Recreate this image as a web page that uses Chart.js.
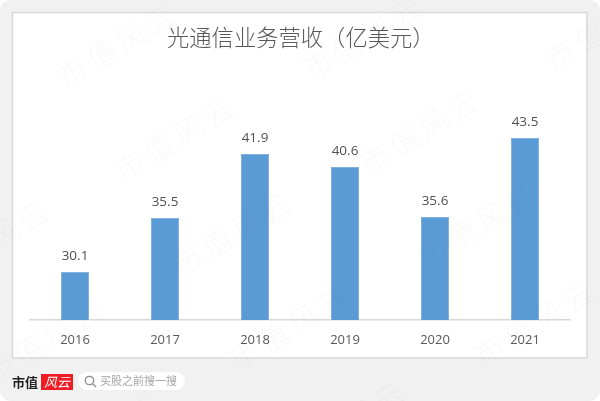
<!DOCTYPE html>
<html>
<head>
<meta charset="utf-8">
<style>
  html, body { margin: 0; padding: 0; background: #fff; }
  canvas { display: block; }
</style>
<script src="https://cdn.jsdelivr.net/npm/chart.js@4/dist/chart.umd.js"></script>
</head>
<body>
<canvas id="chart" width="600" height="401"></canvas>
<script>
const years = ['2016', '2017', '2018', '2019', '2020', '2021'];
const revenue = [30.1, 35.5, 41.9, 40.6, 35.6, 43.5];
const chartTitle = '光通信业务营收（亿美元）';
const watermarkText = '市值风云';
const watermarkSpots = [
  [60, 80], [117, 173], [175, 268], [232, 362], [289, 457],
  [305, 72], [362, 166], [420, 260], [477, 358],
  [547, 62], [604, 156], [-68, 276], [-13, 375], [44, 470]
];

const cjk = '"Noto Sans CJK SC", sans-serif';
const latin = '"Open Sans", sans-serif';

function roundRect(ctx, x, y, w, h, r) {
  ctx.beginPath();
  ctx.roundRect(x, y, w, h, r);
}

// page background and the white card behind the chart
const backdrop = {
  id: 'backdrop',
  beforeDraw(chart) {
    const ctx = chart.ctx;
    ctx.save();
    ctx.fillStyle = '#fff';
    ctx.fillRect(0, 0, 600, 401);
    ctx.fillStyle = '#f1f1f1';
    roundRect(ctx, 0, 0, 600, 401, 11);
    ctx.fill();
    ctx.fillStyle = '#fff';
    ctx.fillRect(12.5, 12.5, 574.5, 345.5);
    ctx.strokeStyle = '#d9d9d9';
    ctx.lineWidth = 1.5;
    ctx.strokeRect(12.5, 12.5, 574.5, 345.5);

    ctx.fillStyle = '#595959';
    ctx.font = '300 22.3px ' + cjk;
    ctx.textAlign = 'left';
    ctx.textBaseline = 'middle';
    ctx.fillText(chartTitle, 167, 38);
    ctx.restore();
  }
};

const barLabels = {
  id: 'barLabels',
  afterDatasetsDraw(chart) {
    const ctx = chart.ctx;
    ctx.save();
    ctx.fillStyle = '#505050';
    ctx.font = '13.5px ' + latin;
    ctx.textAlign = 'center';
    ctx.textBaseline = 'middle';
    chart.getDatasetMeta(0).data.forEach((bar, i) => {
      ctx.fillText(revenue[i].toFixed(1), bar.x, bar.y - 15.5);
    });
    ctx.restore();
  }
};

// footer logo, search pill, then the watermark over everything
const footer = {
  id: 'footer',
  afterDraw(chart) {
    const ctx = chart.ctx;
    ctx.save();
    ctx.textBaseline = 'middle';
    ctx.textAlign = 'left';
    ctx.fillStyle = '#222';
    ctx.font = 'bold 13px ' + cjk;
    ctx.fillText('市值', 12, 382);

    ctx.fillStyle = '#ee1c25';
    ctx.fillRect(41, 374, 32, 16);
    ctx.fillStyle = '#fff';
    ctx.font = 'italic 13px ' + cjk;
    ctx.fillText('风云', 44, 382);

    ctx.fillStyle = '#fff';
    roundRect(ctx, 78, 372, 107, 18, 9);
    ctx.fill();
    ctx.strokeStyle = '#8c8c8c';
    ctx.lineWidth = 1.3;
    ctx.beginPath();
    ctx.arc(89.5, 380.5, 4.2, 0, Math.PI * 2);
    ctx.moveTo(92.6, 383.6);
    ctx.lineTo(96, 387);
    ctx.stroke();
    ctx.fillStyle = '#a6a6a6';
    ctx.font = '11px ' + cjk;
    ctx.fillText('买股之前搜一搜', 100, 381);

    ctx.fillStyle = 'rgba(0, 0, 0, 0.022)';
    ctx.font = '200 30px ' + cjk;
    ctx.letterSpacing = '4px';
    watermarkSpots.forEach(([x, y]) => {
      ctx.save();
      ctx.translate(x, y);
      ctx.rotate(-31 * Math.PI / 180);
      ctx.fillText(watermarkText, 0, 0);
      ctx.restore();
    });
    ctx.restore();
  }
};

new Chart(document.getElementById('chart'), {
  type: 'bar',
  data: {
    labels: years,
    datasets: [{
      data: revenue,
      backgroundColor: '#5b9bd5',
      borderColor: '#7fb2e2',
      borderWidth: 1,
      barPercentage: 1,
      categoryPercentage: 0.311
    }]
  },
  options: {
    responsive: false,
    animation: false,
    layout: { padding: { left: 30, right: 30, top: 20, bottom: 0 } },
    plugins: { legend: { display: false }, tooltip: { enabled: false } },
    scales: {
      x: {
        afterFit(scale) { scale.height = 81; },
        grid: { display: false, drawTicks: false },
        border: { color: '#d9d9d9', width: 1.5 },
        ticks: {
          color: '#595959',
          padding: 12,
          maxRotation: 0,
          font: { family: latin, size: 13 }
        }
      },
      y: { display: false, min: 25.3, max: 55.3 }
    }
  },
  plugins: [backdrop, barLabels, footer]
});
</script>
</body>
</html>
